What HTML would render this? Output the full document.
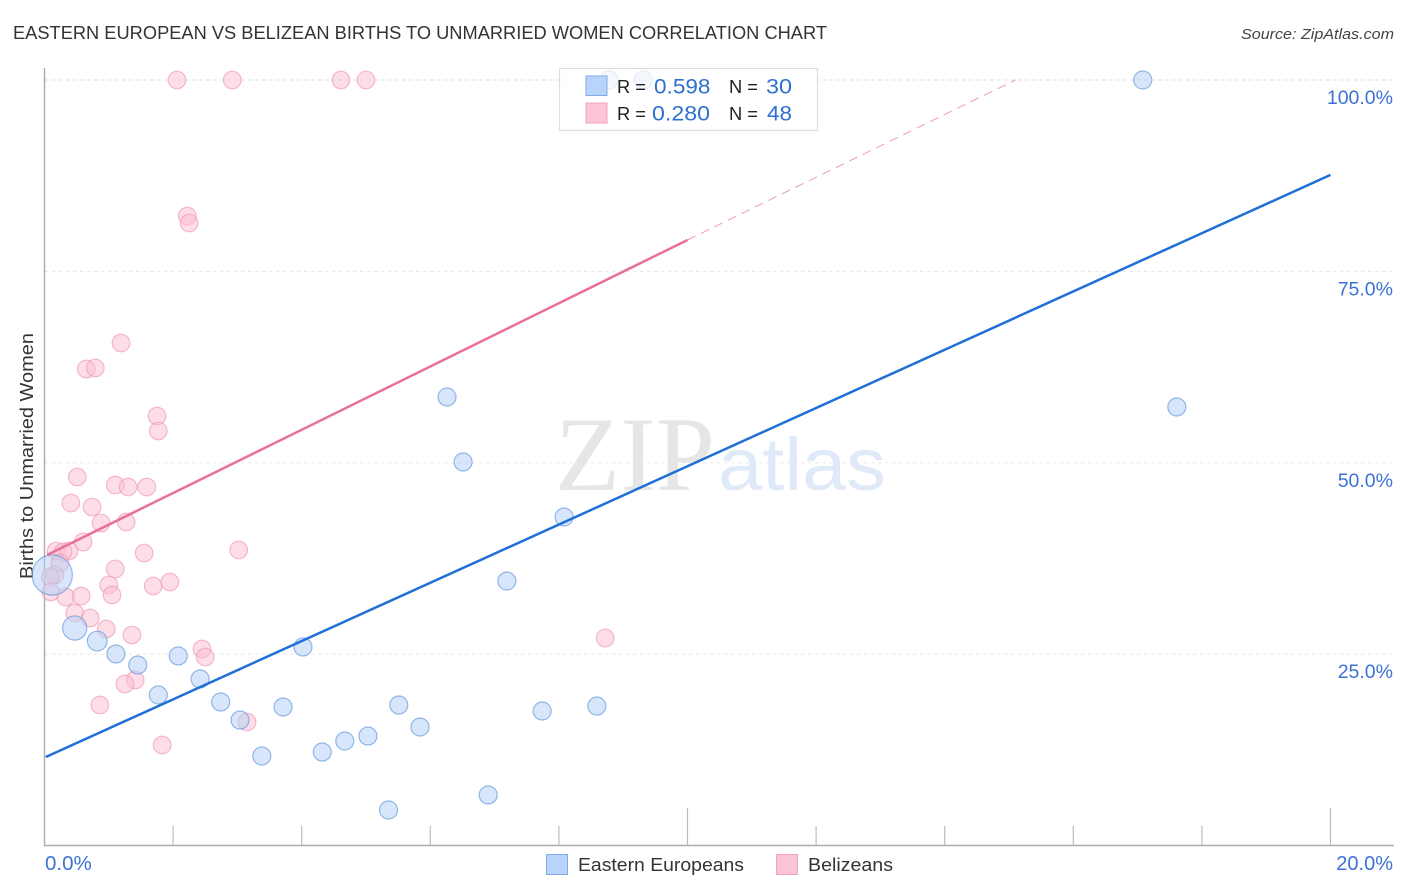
<!DOCTYPE html>
<html>
<head>
<meta charset="utf-8">
<title>Eastern European vs Belizean Births to Unmarried Women Correlation Chart</title>
<style>
html,body{margin:0;padding:0;background:#fff;width:1406px;height:892px;overflow:hidden}
svg{display:block;font-family:"Liberation Sans",sans-serif}
</style>
</head>
<body>
<svg id="chart" xmlns="http://www.w3.org/2000/svg" width="1406" height="892" viewBox="0 0 1406 892">
  <rect x="0" y="0" width="1406" height="892" fill="#ffffff"/>
  <text x="13" y="39" font-size="18.5" fill="#333" textLength="814" lengthAdjust="spacingAndGlyphs">EASTERN EUROPEAN VS BELIZEAN BIRTHS TO UNMARRIED WOMEN CORRELATION CHART</text>
  <text x="1394" y="39" font-size="15" font-style="italic" fill="#444" text-anchor="end" textLength="153" lengthAdjust="spacingAndGlyphs">Source: ZipAtlas.com</text>
  <text transform="translate(33,579) rotate(-90)" x="0" y="0" font-size="18.5" fill="#333" textLength="246" lengthAdjust="spacingAndGlyphs">Births to Unmarried Women</text>
  <g id="grid"></g>
  <g>
    <text x="555" y="490" font-family="'Liberation Serif',serif" font-size="106" fill="#e6e6e6" textLength="160" lengthAdjust="spacingAndGlyphs">ZIP</text>
    <text x="718" y="490" font-size="74" fill="#dfe9f8" textLength="168" lengthAdjust="spacingAndGlyphs">atlas</text>
  </g>
  <g id="axes"></g>
  <g id="pink-points"></g>
  <g id="blue-points"></g>
  <g id="trends"></g>
  <g id="tick-labels"></g>

  <g>
    <rect x="559.5" y="68.5" width="258" height="62" fill="#ffffff" fill-opacity="0.75" stroke="#dedede" stroke-width="1.2"/>
    <rect x="586" y="76" width="21" height="19.500" fill="#b8d4fb" stroke="#7fabe8" stroke-width="1"/>
    <rect x="586" y="103" width="21" height="20" fill="#fcc5d6" stroke="#f0a3bb" stroke-width="1"/>
    <text x="617" y="93" font-size="18.500" fill="#222" textLength="29" lengthAdjust="spacingAndGlyphs">R =</text>
    <text x="654" y="93.500" font-size="21" fill="#2f6fd0" textLength="56.500" lengthAdjust="spacingAndGlyphs">0.598</text>
    <text x="729" y="93" font-size="18.500" fill="#222" textLength="29" lengthAdjust="spacingAndGlyphs">N =</text>
    <text x="766" y="93.500" font-size="21" fill="#2f6fd0" textLength="26" lengthAdjust="spacingAndGlyphs">30</text>
    <text x="617" y="120" font-size="18.500" fill="#222" textLength="29" lengthAdjust="spacingAndGlyphs">R =</text>
    <text x="652" y="120.500" font-size="21" fill="#2f6fd0" textLength="58" lengthAdjust="spacingAndGlyphs">0.280</text>
    <text x="729" y="120" font-size="18.500" fill="#222" textLength="29" lengthAdjust="spacingAndGlyphs">N =</text>
    <text x="767" y="120.500" font-size="21" fill="#2f6fd0" textLength="25" lengthAdjust="spacingAndGlyphs">48</text>
  </g>

  <g>
    <rect x="546.500" y="854.500" width="21" height="20" fill="#b8d4fb" stroke="#7fabe8" stroke-width="1"/>
    <text x="578" y="871" font-size="18.500" fill="#333" textLength="166" lengthAdjust="spacingAndGlyphs">Eastern Europeans</text>
    <rect x="776.500" y="854.500" width="21" height="20" fill="#fcc5d6" stroke="#f0a3bb" stroke-width="1"/>
    <text x="808" y="871" font-size="18.500" fill="#333" textLength="85" lengthAdjust="spacingAndGlyphs">Belizeans</text>
  </g>
</svg>

<script>
var yTickValues = [25, 50, 75, 100];
var yTickLabels = ["25.0%", "50.0%", "75.0%", "100.0%"];
var xTickValues = [2, 4, 6, 8, 10, 12, 14, 16, 18, 20];
var xMajorTicks = [10, 20];
var xEndLabels = ["0.0%", "20.0%"];

var blueX = [0.12,0.47,0.82,1.11,1.45,1.77,2.08,2.42,2.74,3.04,3.38,3.71,4.02,4.32,4.67,5.03,5.35,5.51,5.84,6.26,6.51,6.90,7.19,7.74,8.08,8.59,8.78,9.31,17.08,17.61];
var blueY = [35.34,28.41,26.71,25.02,23.58,19.66,24.76,21.75,18.75,16.39,11.69,18.09,25.93,12.21,13.65,14.30,4.64,18.35,15.48,58.59,50.10,6.60,34.55,17.57,42.91,18.22,100,100,100,57.28];
var blueWeights = [5,1.8,1.2,1,1,1,1,1,1,1,1,1,1,1,1,1,1,1,1,1,1,1,1,1,1,1,1,1,1,1];

var pinkX = [2.06,2.92,4.61,5.00,2.22,2.25,1.19,0.65,0.79,1.75,1.77,0.51,0.41,0.74,1.10,1.30,1.59,0.88,1.27,0.60,0.18,0.38,0.29,3.02,1.55,1.10,0.24,0.16,0.09,0.10,1.00,1.05,1.69,1.95,0.33,0.57,0.47,0.71,0.96,1.36,2.45,2.50,8.72,1.41,1.25,0.86,1.83,3.15];
var pinkY = [100,100,100,100,82.23,81.32,65.64,62.25,62.38,56.11,54.15,48.14,44.74,44.22,47.09,46.83,46.83,42.13,42.26,39.65,38.47,38.47,38.34,38.60,38.21,36.12,36.90,35.34,35.08,33.12,34.03,32.72,33.90,34.42,32.46,32.59,30.37,29.72,28.28,27.50,25.67,24.62,27.11,21.62,21.10,18.35,13.13,16.13];

var blueTrendX = [0.02, 20];
var blueTrendY = [11.56, 87.6];
var pinkSolidX = [0.04, 10];
var pinkSolidY = [37.95, 79.1];
var pinkDashX = [10, 15.1];
var pinkDashY = [79.1, 100];

var NS = "http://www.w3.org/2000/svg";
function sx(v){ return 44.5 + v * 64.3; }
function sy(v){ return 845.5 - v * 7.655; }
function make(tag, attrs, parent){
  var el = document.createElementNS(NS, tag);
  for (var k in attrs) { el.setAttribute(k, attrs[k]); }
  parent.appendChild(el);
  return el;
}

var grid = document.getElementById("grid");
yTickValues.forEach(function(v){
  var gridLine = make("line", {x1:45, x2:1394, y1:sy(v), y2:sy(v), stroke: v === 100 ? "#dcdcdc" : "#e8e8e8", "stroke-width":1, "stroke-dasharray":"3.500 3.500"}, grid);
  
  
});

var axes = document.getElementById("axes");
var yAxisLine = make("line", {x1:44.5, x2:44.5, y1:68, y2:846, stroke:"#ababab", "stroke-width":1.4}, axes);


var xAxisLine = make("line", {x1:44, x2:1394, y1:845.5, y2:845.5, stroke:"#ababab", "stroke-width":1.4}, axes);


xTickValues.forEach(function(v){
  var top = xMajorTicks.indexOf(v) >= 0 ? 808 : 826;
  var tick = make("line", {x1:sx(v), x2:sx(v), y1:top, y2:845.5, stroke:"#bbbbbb", "stroke-width":1.2}, axes);
  
  
});

function drawPoints(groupId, xs, ys, fill, stroke, weights, baseR, name){
  var g = document.getElementById(groupId);
  xs.forEach(function(x, i){
    var w = weights ? weights[i] : 1;
    var c = make("circle", {cx:sx(x), cy:sy(ys[i]), r:baseR * Math.sqrt(w), fill:fill, "fill-opacity":0.52, stroke:stroke, "stroke-opacity":0.65, "stroke-width":1.2}, g);
    
    
  });
}
drawPoints("pink-points", pinkX, pinkY, "#fbbdd0", "#ee98b4", null, 8.8, "belizeans-point");
drawPoints("blue-points", blueX, blueY, "#b4d0f8", "#5f93dc", blueWeights, 9, "eastern-europeans-point");

var trends = document.getElementById("trends");
var pinkDash = make("line", {x1:sx(pinkDashX[0]), y1:sy(pinkDashY[0]), x2:sx(pinkDashX[1]), y2:sy(pinkDashY[1]), stroke:"#ee9ab6", "stroke-width":1, "stroke-dasharray":"9 6"}, trends);


var pinkSolid = make("line", {x1:sx(pinkSolidX[0]), y1:sy(pinkSolidY[0]), x2:sx(pinkSolidX[1]), y2:sy(pinkSolidY[1]), stroke:"#e96f9c", "stroke-width":2.5}, trends);


var blueTrend = make("line", {x1:sx(blueTrendX[0]), y1:sy(blueTrendY[0]), x2:sx(blueTrendX[1]), y2:sy(blueTrendY[1]), stroke:"#1f6fd8", "stroke-width":2.5}, trends);



var labels = document.getElementById("tick-labels");
yTickValues.forEach(function(v, i){
  var t = make("text", {x:1393, y:sy(v) + 24, "font-size":19.5, fill:"#3c72d6", "text-anchor":"end"}, labels);
  t.textContent = yTickLabels[i];
  
  
});
var xStart = make("text", {x:45, y:870, "font-size":20.5, fill:"#3c72d6"}, labels);
xStart.textContent = xEndLabels[0];


var xEnd = make("text", {x:1393, y:870, "font-size":20, fill:"#3c72d6", "text-anchor":"end"}, labels);
xEnd.textContent = xEndLabels[1];


</script>
</body>
</html>
